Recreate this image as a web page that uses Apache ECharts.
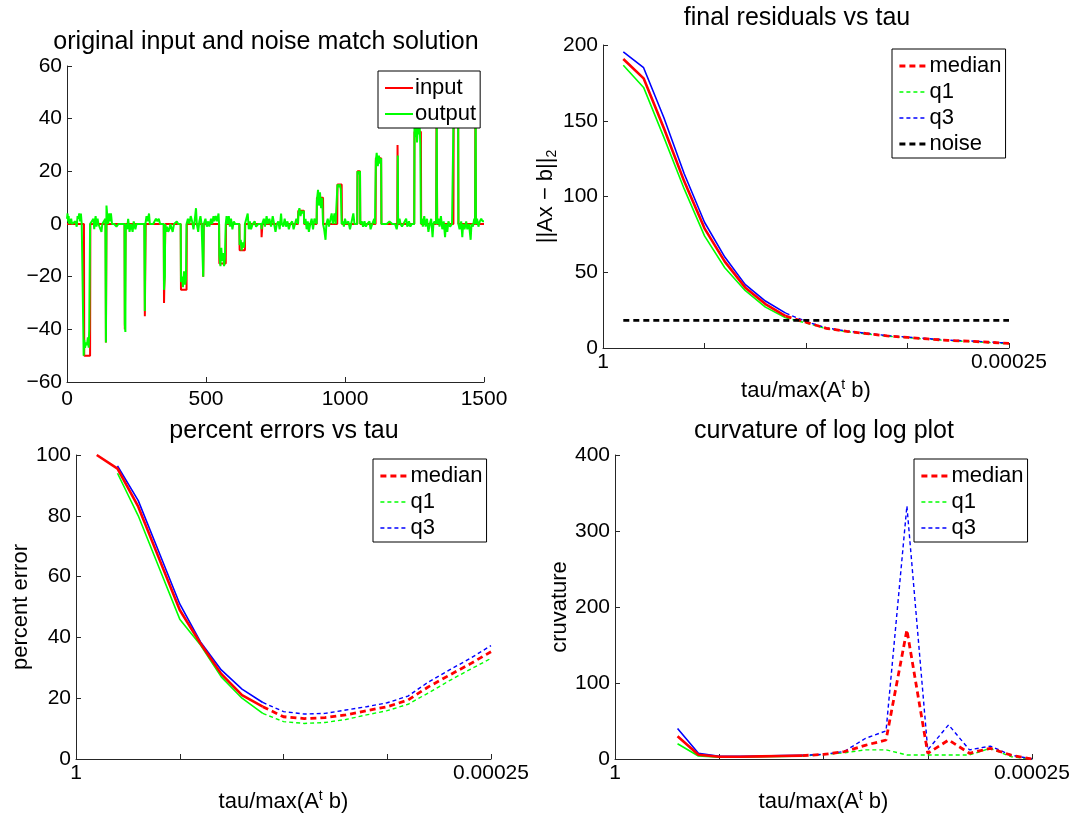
<!DOCTYPE html>
<html><head><meta charset="utf-8">
<script src="https://cdn.jsdelivr.net/npm/echarts@6/dist/echarts.min.js"></script>
<style>html,body{margin:0;padding:0;background:#fff}#c{width:1079px;height:815px}</style>
</head><body><div id="c"></div>
<script>
// ---------- DATA ----------
const titles = ['original input and noise match solution', 'final residuals vs tau', 'percent errors vs tau', 'curvature of log log plot'];
const tauEndLabels = ['1', '0.00025'];
const tauIdx = [1,2,3,4,5,6,7,8,9,10,11,12,13,14,15,16,17,18,19,20];
const solidUntil = 9;

// input spikes: [start, end, value]
const inputSpikes = [
  [62,83,-50],[140,141,-45],[208,210,-40],[280,282,-35],[349,353,-30],[410,430,-25],[490,491,-20],
  [548,571,-15],[621,640,-10],[700,702,-5],[832,852,5],[899,921,10],[973,988,15],[1045,1054,20],
  [1111,1130,25],[1189,1190,30],[1250,1273,35],[1329,1331,40],[1391,1407,45],[1469,1470,50]
];
// output (recovered) signal: [x, y]
const outputSignal = [
  [0,2],[2,4],[4,1],[6,3],[8,0],[12,1],[15,2],[18,0],[25,0],[30,1],[35,-1],[38,3],[41,2],[44,4],[47,1],[50,4],[53,0],[58,0],
  [60,-50],[62,-44],[65,-47],[68,-45],[72,-46],[75,-43],[78,-47],[80,-40],[82,-40],[83,0],
  [90,0],[95,2],[98,-2],[100,1],[103,3],[106,-1],[110,2],[113,0],[120,0],[124,-3],[127,0],
  [138,2],[140,-45],[142,7],[145,3],[148,0],[152,4],[155,1],[158,4],[162,0],[170,0],[178,-1],[185,0],
  [207,0],[208,-38],[210,-41],[211,0],[216,-2],[220,2],[225,-3],[230,0],[236,-3],[240,1],[246,-2],[250,0],
  [278,0],[280,-33],[282,0],[286,3],[290,1],[295,4],[298,0],[310,0],[320,2],[325,1],[330,2],[335,0],
  [348,0],[349,-25],[352,-20],[353,0],[356,-3],[360,-1],[364,-3],[368,-2],[372,0],[380,-3],[385,0],[395,1],[400,0],
  [409,0],[410,-22],[414,-20],[417,-24],[421,-18],[425,-23],[428,-21],[430,0],[435,2],[440,0],[445,3],[450,1],[455,-2],[460,2],[464,6],[467,0],[472,-3],[476,1],[480,3],[484,0],
  [489,0],[490,-20],[492,0],[498,2],[503,-1],[508,1],[512,-1],[518,2],[522,0],[527,3],[530,1],[535,3],[540,1],[545,4],
  [547,0],[548,-12],[552,-16],[555,-9],[558,-14],[561,-11],[565,-16],[568,-13],[571,0],[574,3],[577,0],[582,3],[586,-1],[590,2],[595,-2],[600,1],[605,0],[612,0],
  [620,0],[621,-8],[625,-6],[628,-10],[632,-7],[636,-9],[639,-6],[640,0],[645,2],[650,4],[654,-2],[658,1],[662,-2],[668,0],[675,1],[680,-1],[688,0],
  [699,0],[700,-2],[702,0],[708,2],[712,-1],[718,3],[722,0],[728,2],[734,-1],[740,3],[745,0],[750,-3],[755,0],[760,1],[765,-2],[770,4],[773,0],[778,-1],[783,2],[788,-1],[793,1],[798,-2],[803,0],[810,1],[815,-2],[820,0],[825,2],
  [831,0],[832,4],[836,6],[840,3],[844,5],[848,4],[852,5],[853,0],[858,2],[862,-2],[866,1],[870,-3],[875,0],[880,2],[885,-2],[890,2],[895,1],
  [898,0],[899,9],[903,13],[906,7],[910,12],[914,6],[918,10],[921,0],[925,-2],[930,-6],[933,0],[938,2],[942,-1],[948,2],[952,4],[956,0],[962,4],[966,0],
  [972,0],[973,15],[978,14],[982,15],[985,13],[988,0],[992,1],[996,-1],[1000,2],[1005,0],[1012,1],[1018,-2],[1022,0],[1030,4],[1034,0],[1040,0],
  [1044,0],[1045,20],[1050,19],[1054,20],[1055,0],[1060,1],[1065,-1],[1070,1],[1075,-1],[1080,0],[1088,1],[1092,-2],[1098,0],[1105,2],[1108,0],
  [1110,0],[1111,24],[1114,27],[1118,22],[1122,26],[1126,23],[1130,25],[1131,0],[1150,0],[1160,1],[1170,0],[1180,0],[1186,-2],
  [1189,0],[1190,26],[1191,0],[1196,2],[1200,0],[1205,-1],[1210,0],[1220,2],[1224,-1],[1230,1],[1235,-1],[1240,0],
  [1249,0],[1250,40],[1253,33],[1256,42],[1259,31],[1262,37],[1265,34],[1268,39],[1271,30],[1273,0],[1276,2],[1280,-1],[1285,3],[1290,-1],[1295,2],[1300,-3],[1305,0],[1310,2],[1315,-5],[1318,0],[1322,1],
  [1328,0],[1330,40],[1331,0],[1336,2],[1340,-1],[1345,3],[1350,-2],[1355,1],[1360,-5],[1363,0],[1368,-3],[1372,1],[1378,-1],[1385,0],
  [1390,0],[1391,45],[1407,45],[1408,0],[1412,-2],[1418,1],[1422,-5],[1425,0],[1430,-2],[1436,1],[1440,-2],[1446,0],[1452,-6],[1455,0],[1460,-1],[1465,2],
  [1468,0],[1470,50],[1471,0],[1475,2],[1480,-1],[1485,1],[1490,2],[1495,1],[1500,1]
];

// final residuals ||Ax-b||_2
const resMedian = [190.8,178,145,110,79,57,40,29,21,17,13,11,9.5,8,7,6,5,4.5,3.8,3];
const resQ1     = [186.6,172,139,105,74,53,38,27,20,16.5,12.8,10.8,9.3,7.8,6.8,5.8,4.9,4.3,3.6,2.8];
const resQ3     = [195.4,185,152,115,83,60,42,31,23,17.5,13.3,11.2,9.7,8.2,7.2,6.2,5.2,4.7,4,3.2];
const noiseLevel = 18.2;

// percent errors
const pctMedian = [100,95.5,83,66,49,38,28,21,17.2,13.9,13.3,13.6,14.5,15.9,17.2,19.4,23.8,27.6,31.3,35.3];
const pctQ1     = [null,94,80,63,46,37.5,27,20,15,12.3,11.7,12,13,14.5,15.9,18,21.8,25.8,29.5,33.1];
const pctQ3     = [null,96.4,85,68,51,38.5,29.3,23,18.6,15.6,14.8,15,16.1,17.2,18.5,20.7,25.4,29.3,33.1,37.3];

// curvature
const curvMedian = [null,null,30,5.5,3,3,3.5,4,4.5,6,9.6,18,25,170,7.5,25,7.5,14,5,0];
const curvQ1     = [null,null,20,4,2.5,2.5,3,3.5,4,6,8,12,12,5.3,5.3,5.3,5.3,14,3,0];
const curvQ3     = [null,null,40,7.5,3.5,3.5,4,4.5,5,6,10,27,37,333,12,45,12,17,5,0];

// ---------- BUILD ----------
const FONT = "'Liberation Sans', Arial, Helvetica, sans-serif";
const AX = '#262626';
const RED = '#ff0000', GREEN = '#00ff00', BLUE = '#0000ff';

function spikesToLine(sp) {
  const pts = [[0, 0]];
  sp.forEach(s => { pts.push([s[0]-1, 0], [s[0], s[2]], [s[1], s[2]], [s[1]+1, 0]); });
  pts.push([1500, 0]);
  return pts;
}
function seg(vals, lo, hi) {
  return tauIdx.map((t, i) => [t, vals[i]]).filter(p => p[1] != null && p[0] >= lo && p[0] <= hi);
}
function ln(name, g, data, color, width, dash, z) {
  return { type: 'line', name, xAxisIndex: g, yAxisIndex: g, data, symbol: 'none', showSymbol: false,
    lineStyle: { color, width, type: dash || 'solid', cap: 'butt' }, itemStyle: { color }, z: z || 2,
    silent: true, animation: false, clip: true };
}
const minus = v => String(v).replace('-', '\u2212');
const tickStyle = { show: true, inside: true, length: 5, lineStyle: { color: AX, width: 1 } };
const lineStyleAx = { show: true, onZero: false, lineStyle: { color: AX, width: 1 } };
const tauName = 'tau/max(A{sup|t} b)';
const nameTS = { color: '#000', fontSize: 22, fontFamily: FONT,
  rich: { sup: { fontSize: 14, fontFamily: FONT, color: '#000', verticalAlign: 'top', lineHeight: 26 },
          sub: { fontSize: 14, fontFamily: FONT, color: '#000', verticalAlign: 'bottom', lineHeight: 26 } } };

function xTau(g) {
  return { type: 'value', gridIndex: g, min: 0, max: 20, interval: 5,
    axisLine: lineStyleAx, axisTick: tickStyle, splitLine: { show: false },
    axisLabel: { color: '#000', fontSize: 21, fontFamily: FONT, margin: 4, showMinLabel: true, showMaxLabel: true,
      formatter: v => v === 0 ? tauEndLabels[0] : (v === 20 ? tauEndLabels[1] : '') },
    name: tauName, nameLocation: 'middle', nameGap: 30, nameTextStyle: nameTS };
}
function yVal(g, min, max, interval, name, gap) {
  return { type: 'value', gridIndex: g, min, max, interval,
    axisLine: lineStyleAx, axisTick: tickStyle, splitLine: { show: false },
    axisLabel: { color: '#000', fontSize: 21, fontFamily: FONT, margin: 5, formatter: minus },
    name: name || '', nameLocation: 'middle', nameGap: gap || 40, nameRotate: 90, nameTextStyle: nameTS };
}
function legend(names, left, top) {
  return { show: true, data: names, left, top, orient: 'vertical', itemWidth: 28, itemHeight: 12, itemGap: 4,
    padding: [6, 4, 3, 6], borderColor: '#000', borderWidth: 1, backgroundColor: '#fff', selectedMode: false,
    textStyle: { fontSize: 22, fontFamily: FONT, color: '#000', padding: [0, 0, 0, -3] },
    itemStyle: { opacity: 0 }, lineStyle: { width: 'inherit' }, z: 10 };
}
function title(text, cx, top) {
  return { text, left: cx, top, textAlign: 'center', padding: 0,
    textStyle: { fontSize: 25, fontWeight: 'normal', color: '#000', fontFamily: FONT } };
}

const series = [
  // top-left
  ln('input', 0, spikesToLine(inputSpikes), RED, 2),
  ln('output', 0, outputSignal, GREEN, 2, null, 3),
  // top-right: solid parts
  ln('_r_q1', 1, seg(resQ1, 1, solidUntil), GREEN, 1.6),
  ln('_r_q3', 1, seg(resQ3, 1, solidUntil), BLUE, 1.6),
  ln('_r_med', 1, seg(resMedian, 1, solidUntil), RED, 2.6),
  // dashed parts
  ln('q1', 1, seg(resQ1, solidUntil, 20), GREEN, 1.4, [4, 3]),
  ln('q3', 1, seg(resQ3, solidUntil, 20), BLUE, 1.4, [4, 3]),
  ln('median', 1, seg(resMedian, solidUntil, 20), RED, 2.8, [6, 4]),
  ln('noise', 1, [[tauIdx[0], noiseLevel], [tauIdx[tauIdx.length - 1], noiseLevel]], '#000', 2.8, [6, 4]),
  // bottom-left
  ln('_p_q1', 2, seg(pctQ1, 1, solidUntil), GREEN, 1.6),
  ln('_p_q3', 2, seg(pctQ3, 1, solidUntil), BLUE, 1.6),
  ln('_p_med', 2, seg(pctMedian, 1, solidUntil), RED, 2.6),
  ln('q1', 2, seg(pctQ1, solidUntil, 20), GREEN, 1.4, [4, 3]),
  ln('q3', 2, seg(pctQ3, solidUntil, 20), BLUE, 1.4, [4, 3]),
  ln('median', 2, seg(pctMedian, solidUntil, 20), RED, 2.8, [6, 4]),
  // bottom-right
  ln('_c_q1', 3, seg(curvQ1, 1, solidUntil), GREEN, 1.6),
  ln('_c_q3', 3, seg(curvQ3, 1, solidUntil), BLUE, 1.6),
  ln('_c_med', 3, seg(curvMedian, 1, solidUntil), RED, 2.6),
  ln('q1', 3, seg(curvQ1, solidUntil, 20), GREEN, 1.4, [4, 3]),
  ln('q3', 3, seg(curvQ3, solidUntil, 20), BLUE, 1.4, [4, 3]),
  ln('median', 3, seg(curvMedian, solidUntil, 20), RED, 2.8, [6, 4])
];

const option = {
  animation: false,
  backgroundColor: '#fff',
  textStyle: { fontFamily: FONT },
  title: [title(titles[0], 266, 30), title(titles[1], 797, 6), title(titles[2], 284, 419), title(titles[3], 824, 419)],
  grid: [
    { left: 67, top: 66, width: 417, height: 316 },
    { left: 603, top: 45, width: 406, height: 303 },
    { left: 76, top: 455, width: 415, height: 304 },
    { left: 615, top: 455, width: 417, height: 304 }
  ],
  xAxis: [
    { type: 'value', gridIndex: 0, min: 0, max: 1500, interval: 500, axisLine: lineStyleAx, axisTick: tickStyle,
      splitLine: { show: false }, axisLabel: { color: '#000', fontSize: 21, fontFamily: FONT, margin: 7, formatter: v => String(v) } },
    xTau(1), xTau(2), xTau(3)
  ],
  yAxis: [
    yVal(0, -60, 60, 20),
    yVal(1, 0, 200, 50, '||Ax \u2212 b||{sub|2}', 38),
    yVal(2, 0, 100, 20, 'percent error', 42),
    yVal(3, 0, 400, 100, 'cruvature', 44)
  ],
  legend: [
    legend(['input', 'output'], 378, 71),
    legend(['median', 'q1', 'q3', 'noise'], 892, 49),
    legend(['median', 'q1', 'q3'], 373, 459),
    legend(['median', 'q1', 'q3'], 914, 459)
  ],
  series
};
const chart = echarts.init(document.getElementById('c'), null, { renderer: 'canvas' });
chart.setOption(option);
</script></body></html>
